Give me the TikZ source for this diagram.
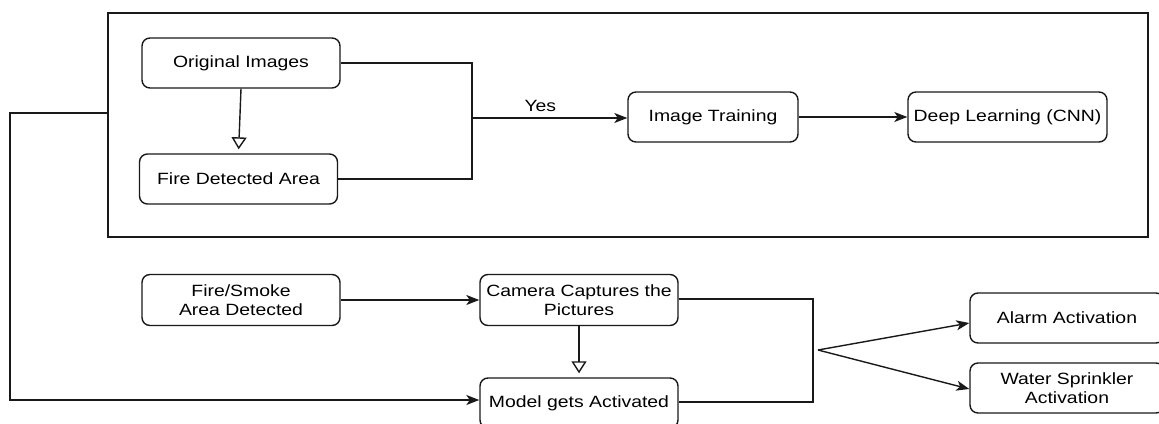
\documentclass[tikz,border=0pt]{standalone}
\usepackage{fontspec}
\setmainfont{Liberation Sans}[FakeStretch=1.19]
\usetikzlibrary{arrows.meta}
\begin{document}
\begin{tikzpicture}[x=1pt,y=-1pt,
  every node/.style={font=\fontsize{16.3}{18.5}\selectfont, text=black},
  proc/.style={draw=black!90, line width=1.4pt, rounded corners=8pt, minimum width=198pt, minimum height=50pt, inner sep=0pt, align=center},
  conn/.style={draw=black!90, line width=1.4pt},
  arr/.style={conn, -{Stealth[length=13pt,width=10pt,inset=3.5pt]}},
  openarr/.style={conn, -{Triangle[open,length=12pt,width=15pt]}, shorten >=4pt}
]
\useasboundingbox (0,0) rectangle (1159,423);
% frame
\node[draw=black!90, line width=1.4pt, minimum width=1040pt, minimum height=224pt, inner sep=0pt] (frame) at (628,125) {};
% top nodes
\node[proc] (orig) at (241,63) {Original Images};
\node[proc] (fire) at (238.5,179) {Fire Detected Area};
\node[proc, minimum width=170pt] (train) at (713,117) {Image Training};
\node[proc, minimum width=199pt] (dl) at (1007.5,117) {Deep Learning (CNN)};
% bottom nodes
\node[proc, minimum height=51pt] (fs) at (241,300) {Fire/Smoke\\Area Detected};
\node[proc, minimum height=51pt] (cam) at (579,300) {Camera Captures the\\Pictures};
\node[proc] (model) at (579,403) {Model gets Activated};
\node[proc, minimum width=194pt] (alarm) at (1067,318) {Alarm Activation};
\node[proc, minimum width=194pt] (water) at (1067,388) {Water Sprinkler\\Activation};
% coordinates
\coordinate (b1t) at (472,63);
\coordinate (b1b) at (472,179);
\coordinate (b1m) at (472,118);
\coordinate (fbA) at (10,113);
\coordinate (fbB) at (10,400);
\coordinate (b2t) at (813,299);
\coordinate (b2b) at (813,402);
\coordinate (fork) at (818,350);
% connectors top
\draw[openarr] (orig.south) -- (fire.north);
\draw[conn] (orig.east) -- (b1t) -- (b1b) -- (fire.east);
\draw[arr] (b1m) -- node[above=2pt, pos=0.44]{Yes} (train.west |- b1m);
\draw[arr] (train.east) -- (dl.west);
% feedback
\draw[arr] (frame.west |- fbA) -- (fbA) -- (fbB) -- (model.west |- fbB);
% bottom
\draw[arr] (fs.east) -- (cam.west);
\draw[openarr] (cam.south) -- (model.north);
\draw[conn] (cam.east |- b2t) -- (b2t) -- (b2b) -- (model.east |- b2b);
\draw[arr] (fork) -- ([yshift=-5pt]alarm.west);
\draw[arr] (fork) -- ([yshift=-1pt]water.west);
\end{tikzpicture}
\end{document}
